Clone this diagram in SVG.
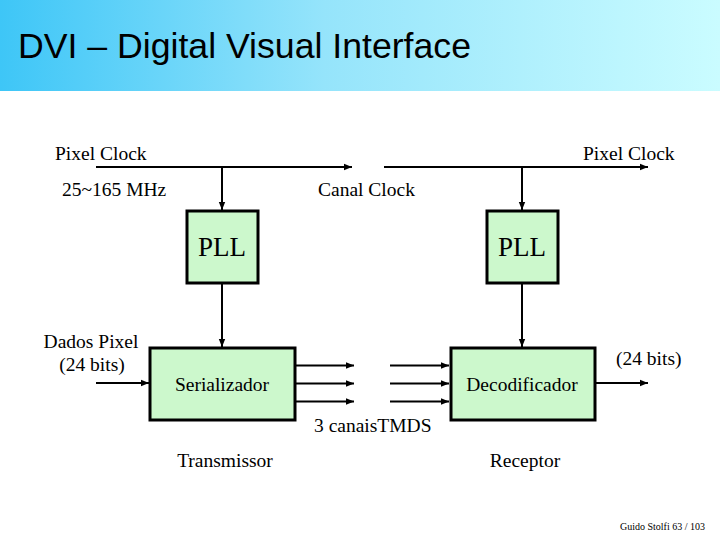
<svg xmlns="http://www.w3.org/2000/svg" width="720" height="540" viewBox="0 0 720 540">
<defs>
<linearGradient id="hdr" x1="0" y1="0" x2="1" y2="0">
<stop offset="0" stop-color="#3ec6f7"/>
<stop offset="0.45" stop-color="#95e4fb"/>
<stop offset="1" stop-color="#cafcff"/>
</linearGradient>
<marker id="arr" viewBox="0 0 10 10" refX="10" refY="5" markerWidth="4" markerHeight="4" markerUnits="strokeWidth" orient="auto">
<path d="M0,1 L10,5 L0,9 z" fill="#000"/>
</marker>
<style>
.c{text-anchor:middle}
.box{fill:#ccf8cc;stroke:#000;stroke-width:3}
.ln{stroke:#000;stroke-width:2;fill:none;marker-end:url(#arr)}
</style>
</defs>
<rect x="0" y="0" width="720" height="540" fill="#fff"/>
<rect x="0" y="0" width="720" height="91" fill="url(#hdr)"/>
<text x="18" y="58" font-family="Liberation Sans, Arial, sans-serif" font-size="35" textLength="453" lengthAdjust="spacingAndGlyphs">DVI – Digital Visual Interface</text>

<g id="connectors">
<line class="ln" x1="96" y1="167" x2="352" y2="167"/>
<line class="ln" x1="222" y1="167" x2="222" y2="210"/>
<line class="ln" x1="384" y1="167" x2="648" y2="167"/>
<line class="ln" x1="522" y1="167" x2="522" y2="210"/>
<line class="ln" x1="222" y1="283" x2="222" y2="347"/>
<line class="ln" x1="522" y1="283" x2="522" y2="347"/>
<line class="ln" x1="96" y1="383" x2="149" y2="383"/>
<line class="ln" x1="296" y1="365.5" x2="354" y2="365.5"/>
<line class="ln" x1="296" y1="383.5" x2="354" y2="383.5"/>
<line class="ln" x1="296" y1="401.5" x2="354" y2="401.5"/>
<line class="ln" x1="390" y1="365.5" x2="449" y2="365.5"/>
<line class="ln" x1="390" y1="383.5" x2="449" y2="383.5"/>
<line class="ln" x1="390" y1="401.5" x2="449" y2="401.5"/>
<line class="ln" x1="596" y1="383" x2="648" y2="383"/>
</g>

<g font-family="Liberation Serif, serif" font-size="19.5" fill="#000">
<g id="pll-tx">
<rect class="box" x="187" y="211" width="71" height="72"/>
<text class="c" x="222" y="256" font-size="27">PLL</text>
</g>
<g id="pll-rx">
<rect class="box" x="487" y="211" width="71" height="72"/>
<text class="c" x="522" y="256" font-size="27">PLL</text>
</g>
<g id="serializador">
<rect class="box" x="150" y="348" width="145" height="72"/>
<text class="c" x="222" y="391">Serializador</text>
</g>
<g id="decodificador">
<rect class="box" x="451" y="348" width="144" height="72"/>
<text class="c" x="522" y="391">Decodificador</text>
</g>

<g id="labels">
<text x="55" y="160">Pixel Clock</text>
<text x="62" y="196">25~165 MHz</text>
<text x="318" y="196">Canal Clock</text>
<text x="583" y="160">Pixel Clock</text>
<text class="c" x="91" y="348">Dados Pixel</text>
<text class="c" x="92" y="371">(24 bits)</text>
<text x="616" y="365">(24 bits)</text>
<text x="314" y="432">3 canaisTMDS</text>
<text class="c" x="225" y="467">Transmissor</text>
<text class="c" x="525" y="467">Receptor</text>
<text x="620" y="530" font-size="10">Guido Stolfi   63 / 103</text>
</g>
</g>
</svg>
